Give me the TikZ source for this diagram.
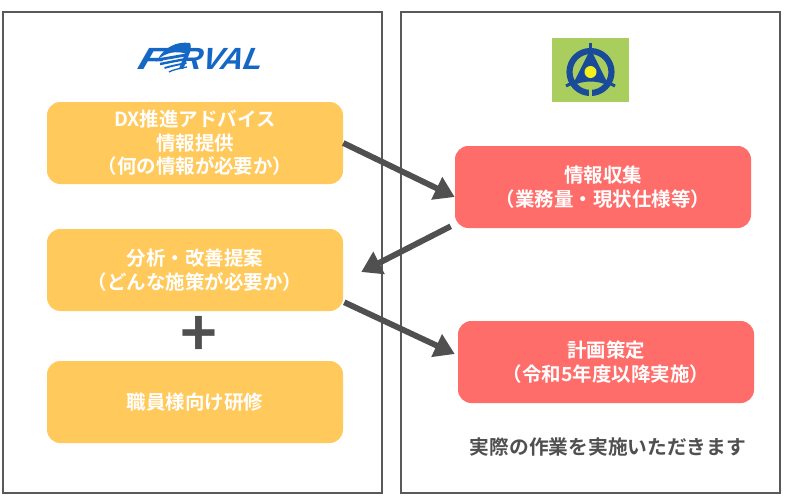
\documentclass[tikz,border=0pt]{standalone}
\usepackage{fontspec}
\setmainfont{Noto Sans CJK JP}[BoldFont={* Bold}]
\newfontfamily\logofont{Liberation Sans}
\usepackage{tikz}
\usetikzlibrary{arrows.meta,positioning,calc}
\definecolor{Ink}{HTML}{505050}
\definecolor{Frame}{HTML}{595959}
\definecolor{Gold}{HTML}{FFC95C}
\definecolor{Coral}{HTML}{FF6D6A}
\definecolor{Forval}{HTML}{1467C4}
\definecolor{Leaf}{HTML}{A9CE5E}
\definecolor{Navy}{HTML}{1A4A9A}
\definecolor{Lemon}{HTML}{F4F01E}
\tikzset{
  panel/.style={draw=Frame,line width=1.1pt,fill=white,minimum width=284.25pt,minimum height=360.75pt,inner sep=0pt},
  box/.style={rounded corners=10pt,minimum width=222pt,minimum height=61.5pt,align=center,inner sep=2pt,text=white,font=\fontsize{14.6pt}{17.6pt}\selectfont\bfseries},
  adv/.style={box,fill=Gold},
  work/.style={box,fill=Coral},
  arr/.style={-{Triangle[length=15pt,width=18pt]},line width=4.4pt,draw=Ink},
  lbl/.style={font=\fontsize{14.8pt}{18pt}\selectfont\bfseries,text=Ink},
  logotext/.style={font=\logofont\fontsize{23pt}{23pt}\selectfont\bfseries\itshape,text=Forval,inner sep=0pt},
}
\begin{document}
\begin{tikzpicture}[x=0.75pt,y=-0.75pt]
 \useasboundingbox (0,0) rectangle (785,501);
 \node[panel] (left) at (192.5,252.5) {};
 \node[panel] (right) at (590.5,252.5) {};
 % logo
 \node[logotext,xscale=1.45,xslant=0.2] (logoF) at (153,59) {F};
 \node[logotext,xscale=1.02,xslant=0.2] (logoR) at (222,59) {RVAL};
 \fill[Forval] (158,59) .. controls (164,48) and (176,41) .. (190,43) .. controls (192,47) and (190,51) .. (187,54) .. controls (176,50) and (166,53) .. cycle;
 \foreach \yy/\ww in {57/2.1,61/1.8,65/1.4,69/1}
   \draw[Forval,line width=\ww pt] (\yy*1.1+93,\yy+3) .. controls (\yy*.2+158,\yy+1) and (\yy*.2+168,\yy-1) .. (\yy*.1+180,\yy-2);
 % emblem
 \fill[Leaf] (552,38) rectangle (629,102);
 \draw[Navy,line width=4.6pt] (590.5,72) circle (21);
 \fill[Navy] (590.5,49) -- (609,86) .. controls (598,80) and (583,80) .. (572,86) -- cycle;
 \fill[Navy] (589,43) rectangle (592,50);
 \draw[Navy,line width=2.2pt] (566,86) -- (572,83);
 \draw[Navy,line width=2.2pt] (615,86) -- (609,83);
 \fill[Leaf] (589.4,88) rectangle (591.6,99);
 \fill[Lemon] (590.5,72) circle (6);
 % boxes
 \node[adv] (tips) at (195,143) {DX推進アドバイス\\情報提供\\（何の情報が必要か）};
 \node[adv] (plan) at (195,270) {分析・改善提案\\（どんな施策が必要か）};
 \node[adv] (train) at (195,402) {職員様向け研修};
 \node[work] (collect) at (603,187) {情報収集\\（業務量・現状仕様等）};
 \node[work] (draft) at (606,362) {計画策定\\（令和5年度以降実施）};
 \node[font=\fontsize{47pt}{47pt}\selectfont\bfseries,text=Ink,inner sep=0pt] (plus) at (199,336) {+};
 \node[lbl] (note) at (608,447) {実際の作業を実施いただきます};
 % arrows
 \coordinate (t1) at ($(collect.west)+(0,10)$);
 \coordinate (t2) at ($(plan.east)+(18,2)$);
 \coordinate (s2) at ($(collect.south west)+(-4,-2)$);
 \coordinate (s3) at ($(plan.south east)+(1,-9)$);
 \coordinate (t3) at ($(draft.west)+(-3,-8)$);
 \draw[arr] (tips.east) -- (t1);
 \draw[arr] (s2) -- (t2);
 \draw[arr] (s3) -- (t3);
\end{tikzpicture}
\end{document}
